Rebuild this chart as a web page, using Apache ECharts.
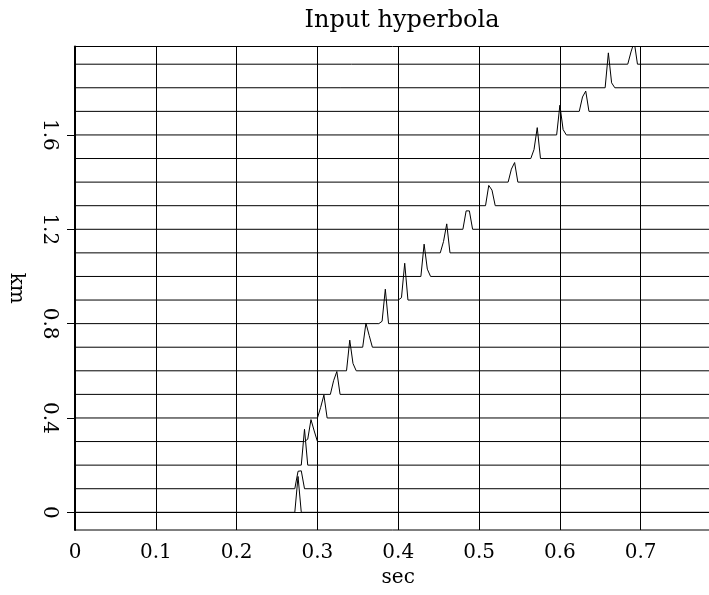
<!DOCTYPE html>
<html>
<head>
<meta charset="utf-8">
<script src="https://cdn.jsdelivr.net/npm/echarts@6/dist/echarts.min.js"></script>
<style>html,body{margin:0;padding:0;background:#fff}#c{width:709px;height:595px}</style>
</head>
<body>
<div id="c"></div>
<script>
// ---- data ----
const titleText = 'Input hyperbola';
const xName = 'sec';
const yName = 'km';
const xTickValues = [0, 0.1, 0.2, 0.3, 0.4, 0.5, 0.6, 0.7];
const yTickValues = [0, 0.4, 0.8, 1.2, 1.6];
// trace offsets (km)
const traceOffsets = [0, 0.1, 0.2, 0.3, 0.4, 0.5, 0.6, 0.7, 0.8, 0.9, 1.0, 1.1, 1.2, 1.3, 1.4, 1.5, 1.6, 1.7, 1.8, 1.9];
// time (sec) of the first sample of each spike
const spikeStart = [0.272, 0.272, 0.280, 0.284, 0.300, 0.316, 0.336, 0.356, 0.376, 0.400,
                    0.428, 0.452, 0.480, 0.508, 0.536, 0.564, 0.596, 0.624, 0.656, 0.684];
// sample interval (sec)
const sampleDt = 0.004;
// spike samples, in units of trace spacing
const spikeAmps = [
  [0, 1.52, 0],
  [0, 0.74, 0.76, 0],
  [0, 1.52, 0],
  [0, 0.1, 0.93, 0.45, 0],
  [0, 0.45, 0.97, 0],
  [0, 0.58, 0.97, 0],
  [0, 1.3, 0.31, 0],
  [0, 1.02, 0.5, 0],
  [0, 0.1, 1.46, 0],
  [0, 0.1, 1.56, 0],
  [0, 1.37, 0.31, 0],
  [0, 0.48, 1.23, 0],
  [0, 0.78, 0.78, 0],
  [0, 0.86, 0.66, 0],
  [0, 0.55, 0.83, 0],
  [0, 0.38, 1.31, 0],
  [0, 1.26, 0.23, 0],
  [0, 0.61, 0.86, 0],
  [0, 1.48, 0.21, 0],
  [0, 0.52, 0.95, 0]
];
const traceSpacing = 0.1; // km between traces
const timeMin = 0, timeMax = 0.8;
const offMin = -0.075, offMax = 1.975;

// ---- build series ----
const series = traceOffsets.map((off, k) => {
  const pts = [[timeMin, off]];
  spikeAmps[k].forEach((a, j) => {
    pts.push([+(spikeStart[k] + j * sampleDt).toFixed(4), off + a * traceSpacing]);
  });
  pts.push([timeMax, off]);
  return {
    type: 'line', data: pts, symbol: 'none', clip: true, silent: true,
    lineStyle: { color: '#000', width: 1 }, animation: false
  };
});

const FONT = 'DejaVu Serif';
const chart = echarts.init(document.getElementById('c'), null, { renderer: 'canvas' });
chart.setOption({
  animation: false,
  backgroundColor: '#fff',
  title: {
    text: titleText, left: 397, top: 4, textAlign: 'center',
    textStyle: { fontFamily: FONT, fontSize: 24, fontWeight: 'normal', color: '#000' }
  },
  grid: { left: 75, right: -12.5, top: 46.5, bottom: 65, show: true, borderColor: '#000', borderWidth: 1,
          containLabel: false, outerBoundsMode: 'none' },
  xAxis: {
    type: 'value', min: timeMin, max: timeMax, interval: 0.1,
    name: xName, nameLocation: 'middle', nameGap: 37,
    nameTextStyle: { fontFamily: FONT, fontSize: 20, color: '#000' },
    axisLine: { show: true, lineStyle: { color: '#000', width: 1 } },
    axisTick: { show: true, length: 8, inside: false, customValues: xTickValues, lineStyle: { color: '#000' } },
    axisLabel: { fontFamily: FONT, fontSize: 20, color: '#000', margin: 13,
                 customValues: xTickValues, formatter: v => String(+v.toFixed(1)) },
    splitLine: { show: true, lineStyle: { color: '#000', width: 1 } }
  },
  yAxis: {
    type: 'value', min: offMin, max: offMax,
    name: yName, nameLocation: 'middle', nameGap: 49, nameRotate: -90,
    nameTextStyle: { fontFamily: FONT, fontSize: 20, color: '#000' },
    axisLine: { show: true, lineStyle: { color: '#000', width: 2 } },
    axisTick: { show: true, length: 8, customValues: yTickValues, lineStyle: { color: '#000' } },
    axisLabel: { fontFamily: FONT, fontSize: 20, color: '#000', rotate: -90, margin: 16,
                 customValues: yTickValues, formatter: v => String(+v.toFixed(1)) },
    splitLine: { show: false }
  },
  series: series
});
</script>
</body>
</html>
